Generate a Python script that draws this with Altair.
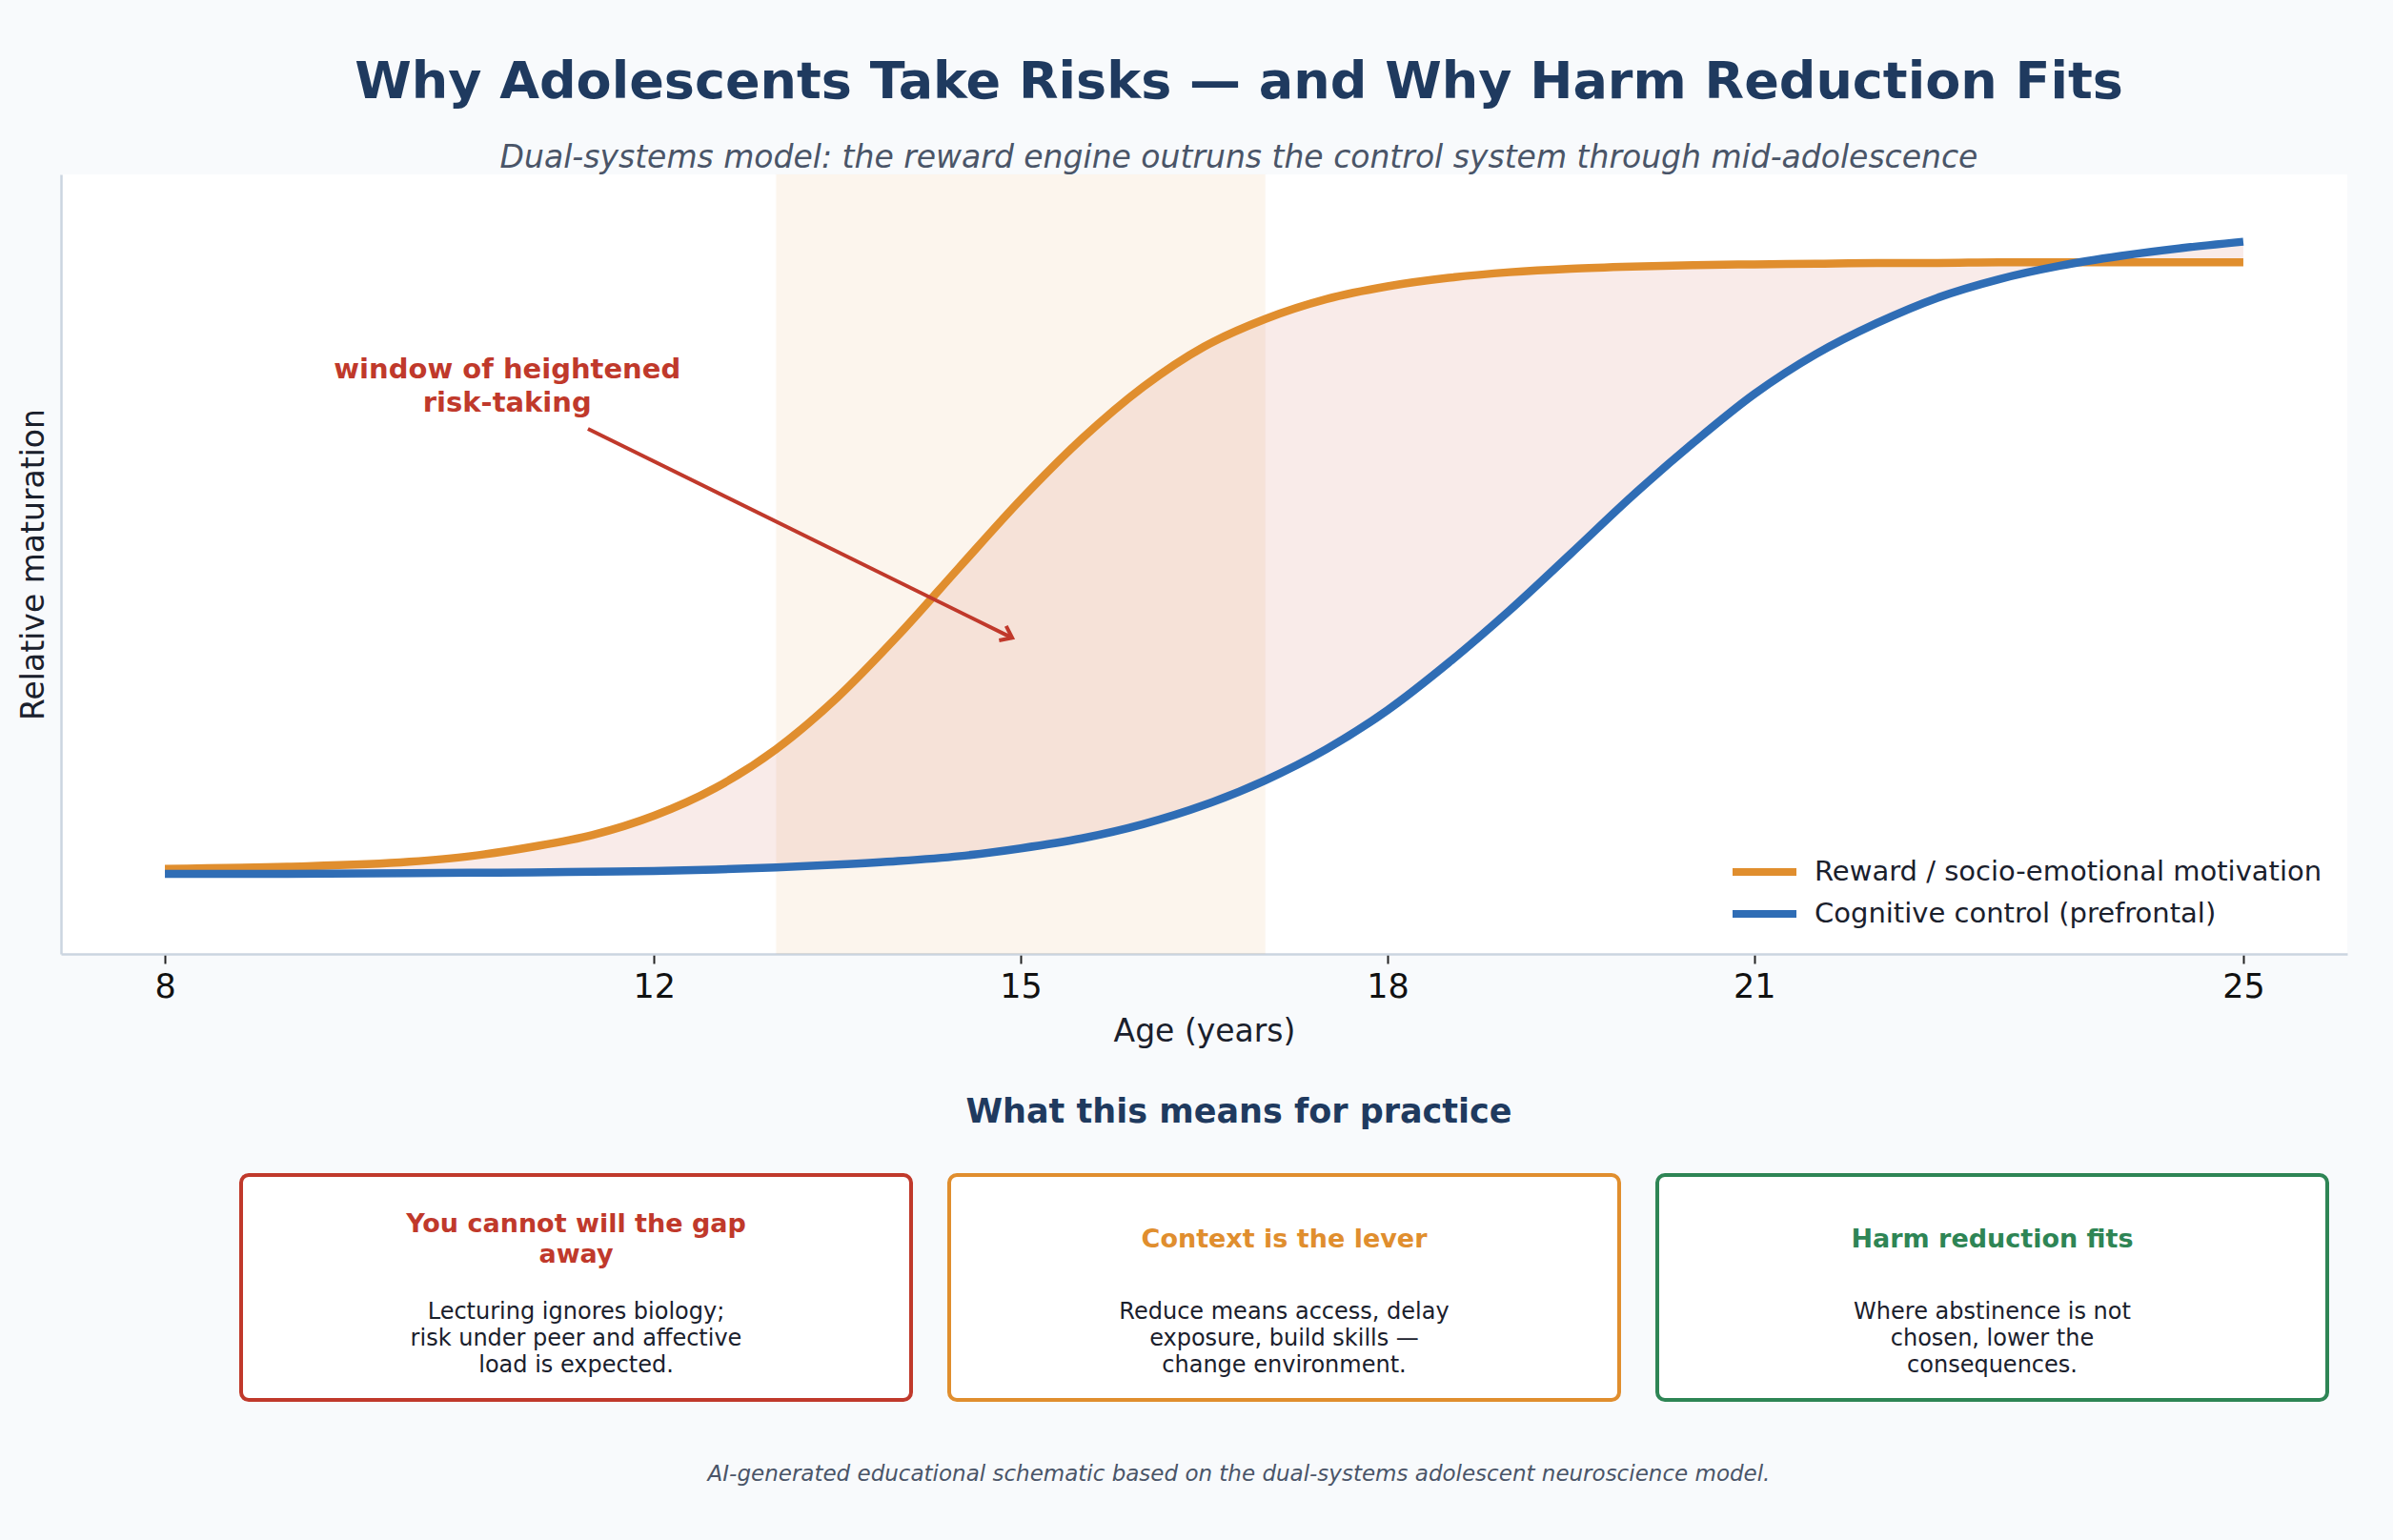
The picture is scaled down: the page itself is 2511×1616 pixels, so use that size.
import altair as alt
import pandas as pd

# ---------------- data ----------------
TITLE = "Why Adolescents Take Risks — and Why Harm Reduction Fits"
SUBTITLE = "Dual-systems model: the reward engine outruns the control system through mid-adolescence"
HEADING = "What this means for practice"
FOOTER = "AI-generated educational schematic based on the dual-systems adolescent neuroscience model."
X_TITLE = "Age (years)"
Y_TITLE = "Relative maturation"
X_TICKS = [8, 12, 15, 18, 21, 25]

AGES = [8, 9, 10, 10.5, 11, 11.5, 12, 12.5, 13, 13.5, 14, 14.5, 15, 15.5, 16, 16.5,
        17, 17.5, 18, 18.5, 19, 19.5, 20, 20.5, 21, 21.5, 22, 22.5, 23, 23.5, 24, 24.5, 25]
REWARD = [0.120, 0.123, 0.130, 0.138, 0.151, 0.168, 0.195, 0.234, 0.289, 0.362, 0.450,
          0.546, 0.641, 0.727, 0.800, 0.857, 0.896, 0.924, 0.942, 0.954, 0.962, 0.967,
          0.970, 0.972, 0.973, 0.974, 0.975, 0.975, 0.976, 0.976, 0.976, 0.976, 0.976]
CONTROL = [0.113, 0.113, 0.114, 0.1145, 0.115, 0.116, 0.117, 0.119, 0.122, 0.126, 0.131,
           0.138, 0.149, 0.163, 0.183, 0.210, 0.245, 0.289, 0.344, 0.411, 0.485, 0.565,
           0.646, 0.721, 0.790, 0.846, 0.890, 0.926, 0.952, 0.971, 0.985, 0.996, 1.005]
SERIES_NAMES = ["Reward / socio-emotional motivation", "Cognitive control (prefrontal)"]

WINDOW = [13, 17]
ANNOT_TEXT = ["window of heightened", "risk-taking"]
ANNOT_AT = [10.80, 0.801]
ARROW_FROM = [11.46, 0.741]
ARROW_TO = [14.93, 0.446]

CARD_TITLES = [["You cannot will the gap", "away"], ["Context is the lever"], ["Harm reduction fits"]]
CARD_BODIES = [
    ["Lecturing ignores biology;", "risk under peer and affective", "load is expected."],
    ["Reduce means access, delay", "exposure, build skills —", "change environment."],
    ["Where abstinence is not", "chosen, lower the", "consequences."],
]

# ---------------- styles / layout ----------------
ORANGE = "#E08E2E"
BLUE = "#2F6DB5"
RED = "#C0392B"
GREEN = "#2E8555"
NAVY = "#1F3A5F"
GREY = "#4A5568"
INK = "#1A202C"
CARD_COLORS = [RED, ORANGE, GREEN]
FONT = "DejaVu Sans"

W, H = 2399, 818            # plot area
PAD = {"left": 64, "top": 183, "right": 48, "bottom": 615}
CX = 1236                   # centre line for titles
CARD_X0, CARD_W, CARD_GAP = 189, 703, 40
CARD_Y0, CARD_Y1 = 1050, 1286

xscale = alt.Scale(domain=[7.15, 25.85], nice=False, zero=False)
yscale = alt.Scale(domain=[0, 1.1], nice=False, zero=False)
xax = alt.Axis(values=X_TICKS, format="d", labelFontSize=35, labelColor="#111111",
               labelFont=FONT, tickColor="#222222", tickSize=10, tickWidth=2,
               domainColor="#CBD5E0", domainWidth=2.5, grid=False, labelPadding=7,
               titleFontSize=33, titleFontWeight="normal", titleColor=INK,
               titleFont=FONT, titlePadding=13, labelFlush=False)
yax = alt.Axis(labels=False, ticks=False, grid=False, domainColor="#CBD5E0",
               domainWidth=2.5, titleFontSize=33, titleFontWeight="normal",
               titleColor=INK, titleFont=FONT, titlePadding=12)

curves = pd.DataFrame({"age": AGES, "reward": REWARD, "control": CONTROL})
one = pd.DataFrame({"k": [0]})

X = lambda f: alt.X(f, scale=xscale, axis=xax, title=X_TITLE)
Y = lambda f: alt.Y(f, scale=yscale, axis=yax, title=Y_TITLE)

band = alt.Chart(pd.DataFrame({"a": [WINDOW[0]], "b": [WINDOW[1]]})).mark_rect(
    color=ORANGE, opacity=0.08, stroke=ORANGE, strokeOpacity=0.08, strokeWidth=2
).encode(x=X("a:Q"), x2="b:Q", y=alt.value(0), y2=alt.value(H))

gap = alt.Chart(curves).mark_area(color=RED, opacity=0.1, interpolate="monotone").encode(
    x=X("age:Q"), y=Y("reward:Q"), y2="control:Q")

line_r = alt.Chart(curves).mark_line(color=ORANGE, strokeWidth=8.5, interpolate="monotone",
                                     strokeCap="butt").encode(x=X("age:Q"), y=Y("reward:Q"))
line_c = alt.Chart(curves).mark_line(color=BLUE, strokeWidth=8.5, interpolate="monotone",
                                     strokeCap="butt").encode(x=X("age:Q"), y=Y("control:Q"))

arrow_df = pd.DataFrame({"x0": [ARROW_FROM[0]], "y0": [ARROW_FROM[1]],
                         "x1": [ARROW_TO[0]], "y1": [ARROW_TO[1]]})
shaft = alt.Chart(arrow_df).mark_rule(color=RED, strokeWidth=4).encode(
    x=X("x0:Q"), y=Y("y0:Q"), x2="x1:Q", y2="y1:Q")
head = alt.Chart(arrow_df).mark_point(
    shape="M-1,-0.75L0,0L-1,0.75", filled=False, stroke=RED, strokeWidth=4,
    size=500, angle=26.2, opacity=1
).encode(x=X("x1:Q"), y=Y("y1:Q"))

ANNOT_LH = 35
annot = alt.Chart(pd.DataFrame({"x": [ANNOT_AT[0]], "y": [ANNOT_AT[1]]})).mark_text(
    text=ANNOT_TEXT, font=FONT, fontSize=29, fontWeight="bold", color=RED,
    align="center", baseline="middle", lineHeight=ANNOT_LH,
    dy=-(len(ANNOT_TEXT) - 1) * ANNOT_LH / 2
).encode(x=X("x:Q"), y=Y("y:Q"))

# legend (inside plot, lower right)
legend_layers = []
for i, (name, col) in enumerate(zip(SERIES_NAMES, [ORANGE, BLUE])):
    yy = 732 + i * 44
    legend_layers.append(alt.Chart(one).mark_rule(color=col, strokeWidth=8).encode(
        x=alt.value(1754), x2=alt.value(1821), y=alt.value(yy)))
    legend_layers.append(alt.Chart(one).mark_text(
        text=name, font=FONT, fontSize=29, color=INK, align="left", baseline="middle"
    ).encode(x=alt.value(1840), y=alt.value(yy)))


def label(text, x, y, size, color, weight="normal", style="normal", lh=None):
    """Centred (multi-line) text block whose vertical centre is y."""
    lines = text if isinstance(text, list) else [text]
    lh = lh or size * 1.2
    kw = dict(text=text, font=FONT, fontSize=size, color=color, fontWeight=weight,
              fontStyle=style, align="center", baseline="middle", lineHeight=lh)
    y_first = y - (len(lines) - 1) * lh / 2
    return alt.Chart(one).mark_text(**kw).encode(x=alt.value(x), y=alt.value(y_first))


texts = [
    label(TITLE, CX, -96, 54, NAVY, weight="bold"),
    label(SUBTITLE, CX, -17, 33, GREY, style="italic"),
    label(HEADING, CX, 984, 35, NAVY, weight="bold"),
    label(FOOTER, CX, 1364, 23, GREY, style="italic"),
]

cards = []
for i, (tl, bl, col) in enumerate(zip(CARD_TITLES, CARD_BODIES, CARD_COLORS)):
    x0 = CARD_X0 + i * (CARD_W + CARD_GAP)
    cx = x0 + CARD_W / 2
    cards.append(alt.Chart(one).mark_rect(
        fill="white", stroke=col, strokeWidth=4, cornerRadius=8
    ).encode(x=alt.value(x0), x2=alt.value(x0 + CARD_W),
             y=alt.value(CARD_Y0), y2=alt.value(CARD_Y1)))
    cards.append(label(tl, cx, 1118, 27, col, weight="bold", lh=32))
    cards.append(label(bl, cx, 1222, 24, INK, lh=28.3))

chart = alt.layer(
    band, gap, line_r, line_c, shaft, head, annot, *legend_layers, *texts, *cards
).properties(
    width=W, height=H,
    autosize=alt.AutoSizeParams(type="none"),
    padding=PAD,
).configure(
    background="#F8FAFC", font=FONT
).configure_view(fill="white", stroke=None)

chart.save("out.html", embed_options={"renderer": "svg", "actions": False})
